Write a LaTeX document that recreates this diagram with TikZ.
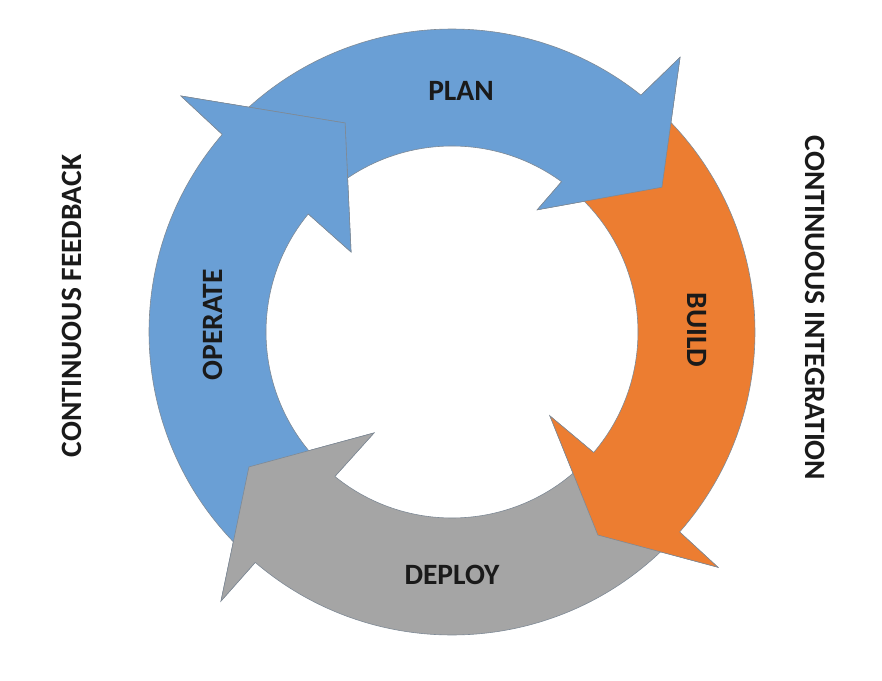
\documentclass[tikz,border=0pt]{standalone}
\usepackage{fontspec}
\setmainfont{Carlito}
\definecolor{planblue}{HTML}{6A9FD5}
\definecolor{buildorange}{HTML}{EC7D31}
\definecolor{deploygray}{HTML}{A5A5A5}
\definecolor{edgegray}{HTML}{7F8A96}
\definecolor{inkblack}{HTML}{1A1A1A}

\begin{document}
\begin{tikzpicture}[
        x=1pt, y=1pt,
        every node/.style={font=\bfseries\fontsize{29.5}{35}\selectfont, text=inkblack, inner sep=0pt},
        ring/.style={draw=edgegray, line width=0.6pt, line join=miter},
    ]
    \useasboundingbox (-452,-348) rectangle (430,332);

    % the four ring arrows, clockwise
    \filldraw[ring, fill=planblue] (135:303) arc[start angle=135, end angle=51.4, radius=303]
        -- (50.3:357) -- (34.6:255) -- (55.1:149) -- (53.9:186)
        arc[start angle=53.9, end angle=135, radius=186] -- cycle;
    \filldraw[ring, fill=buildorange] (48:303) arc[start angle=48, end angle=-41.3, radius=303]
        -- (-41.5:355) -- (-54.3:250) -- (-40.6:129) -- (-40.4:186)
        arc[start angle=-40.4, end angle=48, radius=186] -- cycle;
    \filldraw[ring, fill=deploygray] (-44:303) arc[start angle=-44, end angle=-130.5, radius=303]
        -- (-130.65:354.6) -- (-146.4:243.8) -- (-127.7:127.6) -- (-129.05:186)
        arc[start angle=-129.05, end angle=-44, radius=186] -- cycle;
    \filldraw[ring, fill=planblue] (226:303) arc[start angle=226, end angle=139.3, radius=303]
        -- (138.95:359.4) -- (117.1:234.8) -- (141.6:128.8) -- (140.6:186)
        arc[start angle=140.6, end angle=226, radius=186] -- cycle;

    % heads again, over the next tail
    \filldraw[ring, fill=planblue] (51.4:303) -- (50.3:357) -- (34.6:255) -- (55.1:149) -- (53.9:186);
    \filldraw[ring, fill=buildorange] (-41.3:303) -- (-41.5:355) -- (-54.3:250) -- (-40.6:129) -- (-40.4:186);
    \filldraw[ring, fill=deploygray] (-130.5:303) -- (-130.65:354.6) -- (-146.4:243.8) -- (-127.7:127.6) -- (-129.05:186);
    \filldraw[ring, fill=planblue] (139.3:303) -- (138.95:359.4) -- (117.1:234.8) -- (141.6:128.8) -- (140.6:186);

    \node (plan) at (9,241) {PLAN};
    \node[rotate=-90] (build) at (245,2) {BUILD};
    \node (deploy) at (0,-243) {DEPLOY};
    \node[rotate=90] (operate) at (-239,7) {OPERATE};

    \node[rotate=90] (feedback) at (-380,26) {CONTINUOUS FEEDBACK};
    \node[rotate=-90] (integration) at (363,24) {CONTINUOUS INTEGRATION};
\end{tikzpicture}
\end{document}
